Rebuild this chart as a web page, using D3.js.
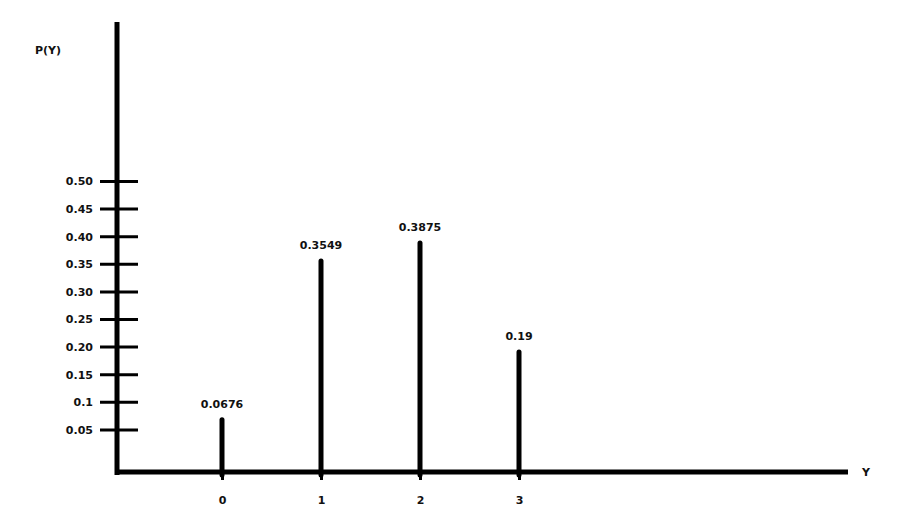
<!DOCTYPE html>
<html>
<head>
<meta charset="utf-8">
<script src="https://cdn.jsdelivr.net/npm/d3@7"></script>
<style>
  html, body { margin: 0; padding: 0; background: #fff; }
  svg { display: block; }
  text { font-family: "DejaVu Sans", sans-serif; font-weight: bold; font-size: 11px; fill: #111; }
</style>
</head>
<body>
<svg id="chart" width="901" height="513"></svg>
<script>
// ---- data ----
const categories = [0, 1, 2, 3];
const probabilities = [0.0676, 0.3549, 0.3875, 0.19];
const yTickValues = [0.05, 0.10, 0.15, 0.20, 0.25, 0.30, 0.35, 0.40, 0.45, 0.50];
const yTickLabels = ["0.05", "0.1", "0.15", "0.20", "0.25", "0.30", "0.35", "0.40", "0.45", "0.50"];
const xAxisTitle = "Y";
const yAxisTitle = "P(Y)";

// ---- layout ----
const svg = d3.select("#chart");
const axisX = 117, baseY = 472;

const x = d3.scaleLinear().domain([0, 3]).range([222, 519]);
const y = d3.scaleLinear().domain([0, 0.5]).range([457, 181]);

// y axis (ticks cross the axis line)
const yAxis = d3.axisLeft(y)
  .tickValues(yTickValues)
  .tickFormat((d, i) => yTickLabels[i])
  .tickSizeOuter(0);
const gy = svg.append("g").attr("transform", `translate(${axisX},0)`).call(yAxis);
gy.select(".domain").remove();
gy.selectAll(".tick line").attr("x1", -17).attr("x2", 21)
  .attr("stroke", "#000").attr("stroke-width", 3);
gy.selectAll(".tick text").attr("x", -24).attr("text-anchor", "end")
  .attr("dy", "0.35em").style("font-family", "DejaVu Sans, sans-serif")
  .style("font-size", "11px").style("font-weight", "bold").attr("fill", "#111");

// x axis
const xAxis = d3.axisBottom(x)
  .tickValues(categories)
  .tickFormat(d => String(d))
  .tickSizeOuter(0)
  .tickSize(8)
  .tickPadding(16);
const gx = svg.append("g").attr("transform", `translate(0,${baseY})`).call(xAxis);
gx.select(".domain").remove();
gx.selectAll(".tick line").attr("stroke", "#000").attr("stroke-width", 3);
gx.selectAll(".tick text").style("font-family", "DejaVu Sans, sans-serif")
  .style("font-size", "11px").style("font-weight", "bold").attr("fill", "#111");

// axis lines
svg.append("line").attr("x1", axisX).attr("x2", axisX).attr("y1", 22).attr("y2", baseY + 3)
  .attr("stroke", "#000").attr("stroke-width", 5);
svg.append("line").attr("x1", axisX - 2).attr("x2", 848).attr("y1", baseY).attr("y2", baseY)
  .attr("stroke", "#000").attr("stroke-width", 5);

// bars (spikes)
const data = categories.map((c, i) => ({ c, p: probabilities[i] }));
svg.selectAll(".spike").data(data).enter().append("line")
  .attr("class", "spike")
  .attr("x1", d => x(d.c)).attr("x2", d => x(d.c))
  .attr("y1", baseY + 3).attr("y2", d => y(d.p))
  .attr("stroke", "#000").attr("stroke-width", 5).attr("stroke-linecap", "round");

// value labels
svg.selectAll(".val").data(data).enter().append("text")
  .attr("class", "val")
  .attr("x", d => x(d.c))
  .attr("y", d => y(d.p) - 12)
  .attr("text-anchor", "middle")
  .text(d => String(d.p));

// titles
svg.append("text").attr("x", 35).attr("y", 54).text(yAxisTitle);
svg.append("text").attr("x", 862).attr("y", 476).text(xAxisTitle);
</script>
</body>
</html>
